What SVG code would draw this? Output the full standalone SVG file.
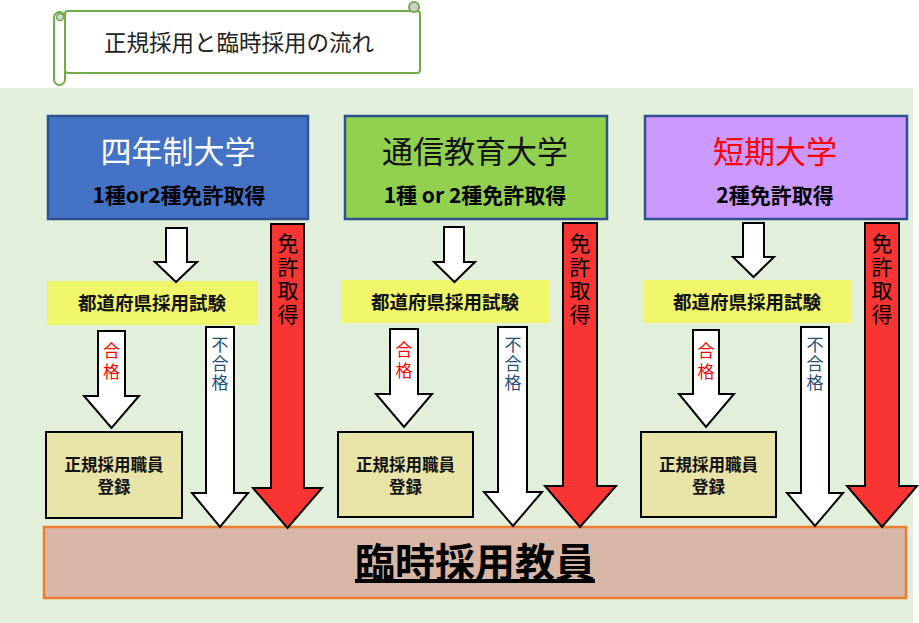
<svg xmlns="http://www.w3.org/2000/svg" width="919" height="623" viewBox="0 0 919 623">
<style>
text{font-family:"Noto Sans CJK JP","Noto Sans",sans-serif;text-anchor:middle}
.hd{stroke:#2F528F;stroke-width:2.5}
.t1{font-size:31px}
.t2{font-size:21px;font-weight:bold;fill:#000}
.exam{fill:#F0F66A}
.et{font-size:18.5px;font-weight:bold;fill:#111}
.reg{fill:#E8E3A7;stroke:#000;stroke-width:2}
.rt{font-size:16.5px;font-weight:bold;fill:#111}
.wa{fill:#fff;stroke:#000;stroke-width:2;stroke-linejoin:miter}
.ra{fill:#F93533;stroke:#000;stroke-width:2}
.v{writing-mode:vertical-rl;text-anchor:start}
.pass{font-size:17px;fill:#FF0000;letter-spacing:4px}
.fail{font-size:17px;fill:#1F4E79;letter-spacing:2px}
.lic{font-size:21px;fill:#000;letter-spacing:2.5px}
</style>
<rect x="0" y="88" width="913" height="535" fill="#E2EFDA"/>
<g id="title">
<rect x="65" y="11" width="355" height="62" rx="3" fill="#fff" stroke="#70AD47" stroke-width="2"/>
<rect x="54" y="12" width="11" height="73" rx="5.5" fill="#fff" stroke="#70AD47" stroke-width="2"/>
<circle cx="60" cy="17" r="3.5" fill="#D5D5D5" stroke="#70AD47" stroke-width="1.5"/>
<circle cx="414" cy="7" r="5" fill="#CFCFCF" stroke="#70AD47" stroke-width="2"/>
<text x="239" y="51" style="font-size:22.5px;fill:#222">正規採用と臨時採用の流れ</text>
</g>
<g id="univ4">
<rect class="hd" x="48" y="116" width="260" height="103" fill="#4472C4"/>
<text class="t1" x="178" y="163" fill="#fff">四年制大学</text>
<text class="t2" x="179" y="203">1種or2種免許取得</text>
</g>
<g id="tsushin">
<rect class="hd" x="345" y="116" width="262" height="103" fill="#92D050"/>
<text class="t1" x="475" y="163" fill="#111">通信教育大学</text>
<text class="t2" x="475" y="203">1種 or 2種免許取得</text>
</g>
<g id="tanki">
<rect class="hd" x="645" y="116" width="262" height="103" fill="#CC99FF"/>
<text class="t1" x="775" y="163" fill="#FF0000">短期大学</text>
<text class="t2" x="775" y="203">2種免許取得</text>
</g>
<g id="exam1"><rect class="exam" x="47" y="281" width="210" height="44"/><text class="et" x="152" y="310">都道府県採用試験</text></g>
<g id="exam2"><rect class="exam" x="341" y="280" width="208" height="43"/><text class="et" x="445" y="309">都道府県採用試験</text></g>
<g id="exam3"><rect class="exam" x="643" y="280" width="208" height="43"/><text class="et" x="747" y="309">都道府県採用試験</text></g>
<g id="reg1"><rect class="reg" x="46" y="432" width="136" height="86"/><text class="rt" x="114" y="471">正規採用職員</text><text class="rt" x="114" y="493">登録</text></g>
<g id="reg2"><rect class="reg" x="338" y="432" width="135" height="85"/><text class="rt" x="405.5" y="471">正規採用職員</text><text class="rt" x="405.5" y="493">登録</text></g>
<g id="reg3"><rect class="reg" x="641" y="432" width="135" height="85"/><text class="rt" x="708.5" y="471">正規採用職員</text><text class="rt" x="708.5" y="493">登録</text></g>
<g id="rinji">
<rect x="44" y="527" width="862" height="71" fill="#D8B7A7" stroke="#ED7D31" stroke-width="2.5"/>
<text x="475" y="577" style="font-size:40px;font-weight:bold;text-decoration:underline;fill:#000">臨時採用教員</text>
</g>
<g id="connectors">
<path class="wa" d="M166,228H187V262H197L176,282L155,262H166Z"/>
<path class="wa" d="M98,331H125V396H139L111.5,428L84,396H98Z"/>
<path class="wa" d="M206,327H234V493H248L220,527L192,493H206Z"/>
<path class="ra" d="M271,224H304V488H322L287.5,528L253,488H271Z"/>
<path class="wa" d="M444,227H464V262H475L454.5,282L434,262H444Z"/>
<path class="wa" d="M390,329H418V394H432L404,427L376,394H390Z"/>
<path class="wa" d="M498,327H527V492H542L513,526L484,492H498Z"/>
<path class="ra" d="M563,223H597V486H616L580,527L545,486H563Z"/>
<path class="wa" d="M743,223H764V257H774L753.5,277L733,257H743Z"/>
<path class="wa" d="M693,330H719V394H734L706,427L679,394H693Z"/>
<path class="wa" d="M801,327H829V493H843L815,526L787,493H801Z"/>
<path class="ra" d="M865,223H899V486H917L882,527L847,486H865Z"/>
<text class="v pass" x="111.5" y="342">合格</text>
<text class="v pass" x="404" y="341">合格</text>
<text class="v pass" x="706" y="342">合格</text>
<text class="v fail" x="220" y="336">不合格</text>
<text class="v fail" x="513" y="336">不合格</text>
<text class="v fail" x="815" y="336">不合格</text>
<text class="v lic" x="288" y="233">免許取得</text>
<text class="v lic" x="580" y="233">免許取得</text>
<text class="v lic" x="882" y="233">免許取得</text>
</g>
</svg>
